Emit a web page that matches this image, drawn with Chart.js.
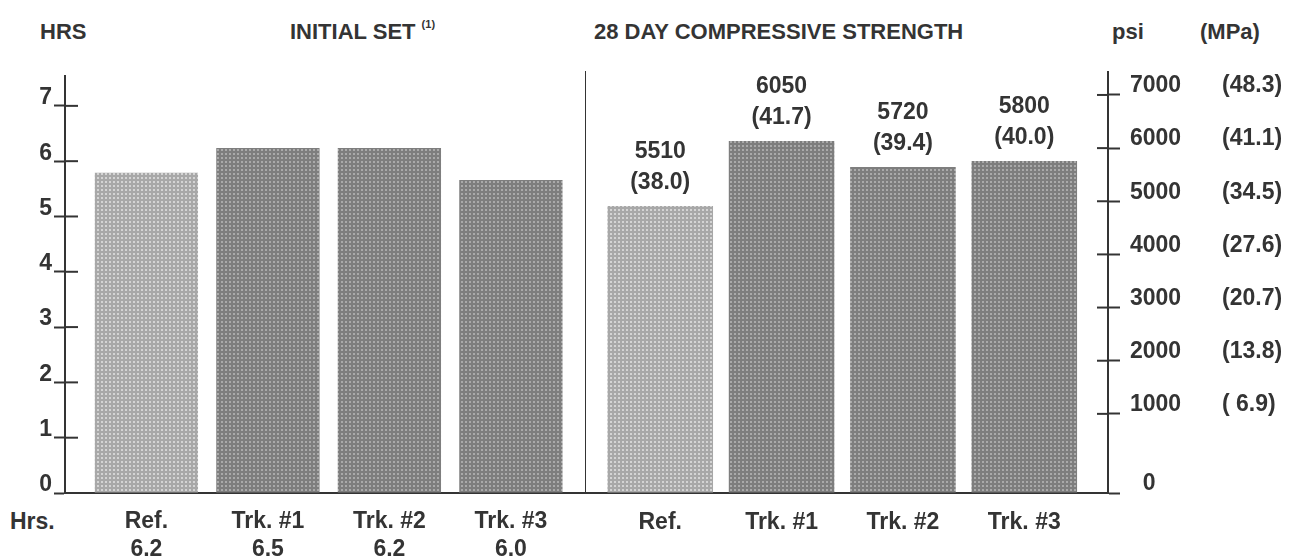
<!DOCTYPE html>
<html>
<head>
<meta charset="utf-8">
<script src="https://cdn.jsdelivr.net/npm/chart.js@4.4.1/dist/chart.umd.min.js"></script>
<style>
    body { margin: 0; background: #ffffff; }
    #quadro { position: relative; width: 1301px; height: 560px; overflow: hidden; font-family: 'Liberation Sans', Arial, sans-serif; color: #343434; }
    canvas { position: absolute; top: 0; }
    .titulo { position: absolute; top: 19px; font-size: 22px; font-weight: bold; line-height: 26px; white-space: pre; }
    .titulo sup { font-size: 11px; vertical-align: top; line-height: 12px; position: relative; top: -1px; }
</style>
</head>
<body>
<div id="quadro">
    <div class="titulo" style="left:40px">HRS</div>
    <div class="titulo" style="left:290px">INITIAL SET <sup>(1)</sup></div>
    <div class="titulo" style="left:594px">28 DAY COMPRESSIVE STRENGTH</div>
    <div class="titulo" style="left:1112px">psi</div>
    <div class="titulo" style="left:1200px">(MPa)</div>
    <div class="titulo" style="left:10px; top:508px; font-size:23px">Hrs.</div>
    <canvas id="graficoPega" width="588" height="560" style="left:0"></canvas>
    <canvas id="graficoResistencia" width="716" height="560" style="left:585px"></canvas>
</div>

<script>
// dados
const categorias = ['Ref.', 'Trk. #1', 'Trk. #2', 'Trk. #3'];
const horasPega = ['6.2', '6.5', '6.2', '6.0'];          // texto embaixo das barras
const alturasPega = [5.79, 6.24, 6.24, 5.66];            // altura desenhada das barras (hrs)
const alturasResistencia = [5395, 6617, 6128, 6241];     // altura desenhada das barras (psi)
const rotulosPsi = ['5510', '6050', '5720', '5800'];
const rotulosMpa = ['38.0', '41.7', '39.4', '40.0'];
const ticksHoras = [0, 1, 2, 3, 4, 5, 6, 7];
const ticksPsi = [0, 1000, 2000, 3000, 4000, 5000, 6000, 7000];
const ticksMpa = ['', '( 6.9)', '(13.8)', '(20.7)', '(27.6)', '(34.5)', '(41.1)', '(48.3)'];

const corTexto = '#343434';
const fonte = { family: "'Liberation Sans', Arial, sans-serif", size: 23, weight: 'bold' };

// textura pontilhada das barras
function reticula(base, ponto) {
    const c = document.createElement('canvas');
    c.width = 4; c.height = 4;
    const g = c.getContext('2d');
    g.fillStyle = base;
    g.fillRect(0, 0, 4, 4);
    g.fillStyle = ponto;
    g.fillRect(1, 1, 2, 2);
    return g.createPattern(c, 'repeat');
}
const padraoRef = reticula('#a8a8a8', '#d4d4d4');
const padraoTrk = reticula('#7e7e7e', '#aaaaaa');
const coresBarras = [padraoRef, padraoTrk, padraoTrk, padraoTrk];

// tracinhos do eixo que atravessam para dentro da area do grafico
const tracosInternos = {
    id: 'tracosInternos',
    afterDraw(chart, args, opts) {
        const escala = chart.scales[opts.eixo];
        const ctx = chart.ctx;
        const x0 = opts.lado > 0 ? chart.chartArea.left : chart.chartArea.right;
        ctx.save();
        ctx.strokeStyle = corTexto;
        ctx.lineWidth = 2;
        escala.ticks.forEach(t => {
            const y = escala.getPixelForValue(t.value);
            if (y > chart.chartArea.bottom - 3) return;
            ctx.beginPath();
            ctx.moveTo(x0, y);
            ctx.lineTo(x0 + opts.lado * opts.comprimento, y);
            ctx.stroke();
        });
        ctx.restore();
    }
};

// valores psi / MPa em cima das barras
const rotulosValores = {
    id: 'rotulosValores',
    afterDatasetsDraw(chart) {
        const ctx = chart.ctx;
        const meta = chart.getDatasetMeta(0);
        ctx.save();
        ctx.fillStyle = corTexto;
        ctx.font = `bold ${fonte.size}px ${fonte.family}`;
        ctx.textAlign = 'center';
        ctx.textBaseline = 'middle';
        meta.data.forEach((barra, i) => {
            ctx.fillText(rotulosPsi[i], barra.x, barra.y - 54);
            ctx.fillText(`(${rotulosMpa[i]})`, barra.x, barra.y - 23);
        });
        ctx.restore();
    }
};

// grafico da esquerda - pega inicial (horas)
new Chart(document.getElementById('graficoPega'), {
    type: 'bar',
    data: {
        datasets: [{
            data: alturasPega.map((v, i) => ({ x: i, y: v })),
            backgroundColor: coresBarras,
            borderWidth: 0,
            barPercentage: 0.85,
            categoryPercentage: 1
        }]
    },
    options: {
        responsive: false,
        animation: false,
        layout: { padding: { top: 76, right: 3, left: 0, bottom: 0 } },
        plugins: {
            legend: { display: false },
            tooltip: { enabled: false },
            tracosInternos: { eixo: 'y', lado: 1, comprimento: 13 }
        },
        scales: {
            x: {
                type: 'linear',
                min: -0.67,
                max: 3.61,
                offset: false,
                afterBuildTicks: s => { s.ticks = categorias.map((c, i) => ({ value: i })); },
                afterFit: s => { s.height = 67; },
                ticks: {
                    autoSkip: false,
                    maxRotation: 0,
                    padding: 15,
                    color: corTexto,
                    font: { ...fonte, lineHeight: 1.2 },
                    callback: (v, i) => [categorias[i], horasPega[i]]
                },
                grid: { drawOnChartArea: false, drawTicks: false, offset: false },
                border: { color: corTexto, width: 2 }
            },
            y: {
                min: 0,
                max: 7.54,
                afterBuildTicks: s => { s.ticks = ticksHoras.map(v => ({ value: v })); },
                afterFit: s => { s.width = 65; },
                ticks: { color: corTexto, font: fonte, padding: 2, labelOffset: -8 },
                grid: { drawOnChartArea: false, tickLength: 11, tickWidth: 2, tickColor: corTexto },
                border: { color: corTexto, width: 2 }
            }
        }
    },
    plugins: [tracosInternos]
});

// grafico da direita - resistencia a compressao aos 28 dias
new Chart(document.getElementById('graficoResistencia'), {
    type: 'bar',
    data: {
        datasets: [{
            data: alturasResistencia.map((v, i) => ({ x: i, y: v })),
            backgroundColor: coresBarras,
            borderWidth: 0,
            barPercentage: 0.87,
            categoryPercentage: 1,
            yAxisID: 'barras'
        }]
    },
    options: {
        responsive: false,
        animation: false,
        layout: { padding: { top: 72, right: 0, left: 0, bottom: 0 } },
        plugins: {
            legend: { display: false },
            tooltip: { enabled: false },
            tracosInternos: { eixo: 'y', lado: -1, comprimento: 11 }
        },
        scales: {
            x: {
                type: 'linear',
                min: -0.62,
                max: 3.69,
                offset: false,
                afterBuildTicks: s => { s.ticks = categorias.map((c, i) => ({ value: i })); },
                afterFit: s => { s.height = 67; },
                ticks: {
                    autoSkip: false,
                    maxRotation: 0,
                    padding: 16,
                    color: corTexto,
                    font: fonte,
                    callback: (v, i) => categorias[i]
                },
                grid: { drawOnChartArea: false, drawTicks: false, offset: false },
                border: { color: corTexto, width: 2 }
            },
            // eixo das barras (so desenha a linha divisoria entre os dois graficos)
            barras: {
                position: 'left',
                min: 0,
                max: 7914,
                afterFit: s => { s.width = 0; },
                ticks: { display: false },
                grid: { drawOnChartArea: false, drawTicks: false },
                border: { color: corTexto, width: 2 }
            },
            // escala psi da figura: no original o zero fica colado na base
            y: {
                position: 'right',
                min: -489,
                max: 7432,
                afterBuildTicks: s => { s.ticks = ticksPsi.map(v => ({ value: v === 0 ? s.min : v })); },
                afterFit: s => { s.width = 100; },
                ticks: {
                    color: corTexto,
                    font: fonte,
                    padding: 10,
                    labelOffset: -9,
                    callback: (v, i) => ticksPsi[i] === 0 ? '  0' : ticksPsi[i]
                },
                grid: { drawOnChartArea: false, tickLength: 12, tickWidth: 2, tickColor: corTexto },
                border: { color: corTexto, width: 2 }
            },
            mpa: {
                position: 'right',
                min: -489,
                max: 7432,
                afterBuildTicks: s => { s.ticks = ticksPsi.map(v => ({ value: v === 0 ? s.min : v })); },
                afterFit: s => { s.width = 93; },
                ticks: {
                    color: corTexto,
                    font: fonte,
                    padding: 14,
                    labelOffset: -9,
                    callback: (v, i) => ticksMpa[i]
                },
                grid: { display: false, drawTicks: false },
                border: { display: false }
            }
        }
    },
    plugins: [tracosInternos, rotulosValores]
});
</script>
</body>
</html>
